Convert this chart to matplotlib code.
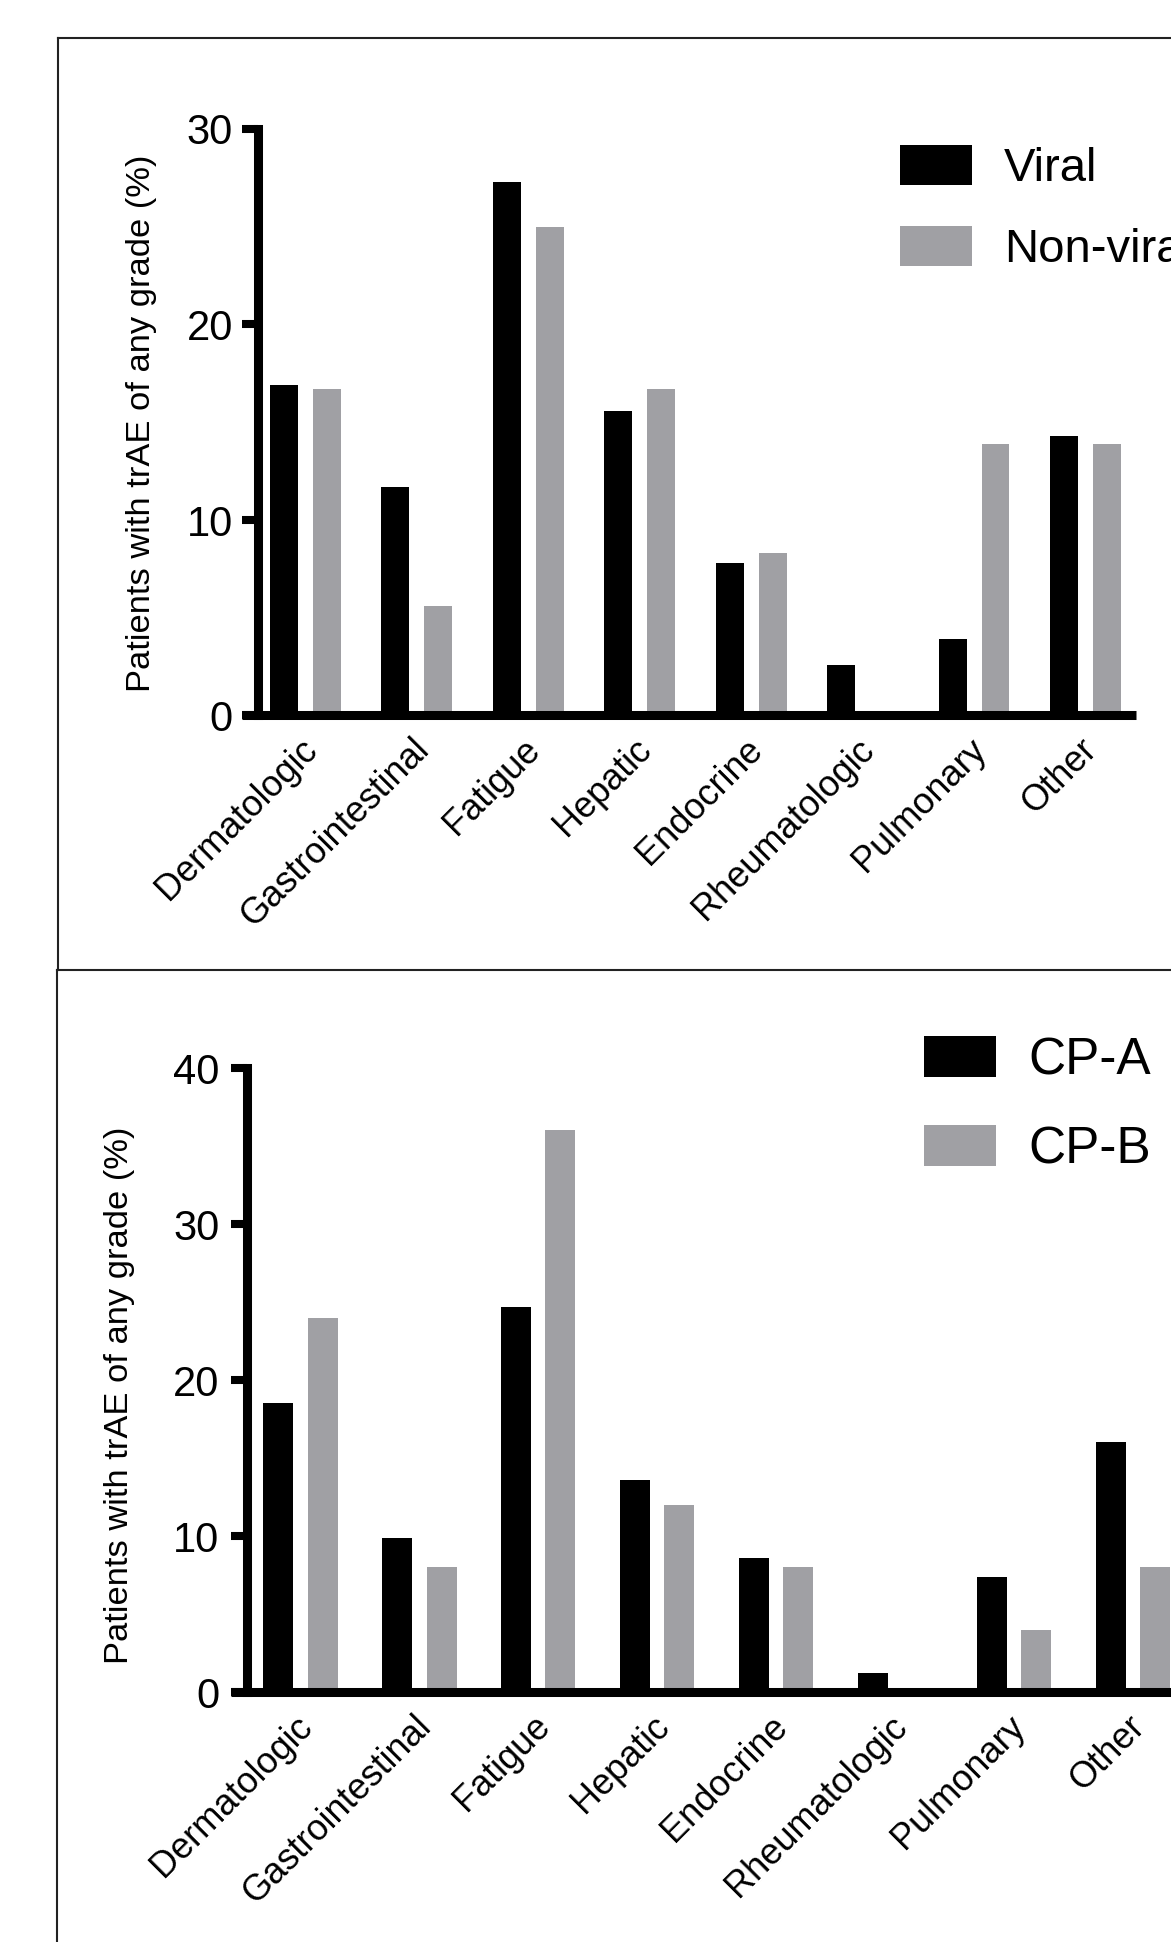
import matplotlib
matplotlib.use("Agg")
import matplotlib.pyplot as plt
from matplotlib.lines import Line2D
from matplotlib.transforms import ScaledTranslation
import numpy as np

plt.rcParams['font.family'] = ['Liberation Sans', 'DejaVu Sans']

categories = ["Dermatologic", "Gastrointestinal", "Fatigue", "Hepatic",
              "Endocrine", "Rheumatologic", "Pulmonary", "Other"]

# Panel 1: viral vs non-viral
viral = [16.9, 11.7, 27.3, 15.6, 7.8, 2.6, 3.9, 14.3]
non_viral = [16.7, 5.6, 25.0, 16.7, 8.3, 0.0, 13.9, 13.9]
# Panel 2: Child-Pugh A vs B
cp_a = [18.5, 9.9, 24.7, 13.6, 8.6, 1.2, 7.4, 16.0]
cp_b = [24.0, 8.0, 36.0, 12.0, 8.0, 0.0, 4.0, 8.0]

top_labels = ["Viral", "Non-viral"]
bottom_labels = ["CP-A", "CP-B"]
top_yticks = [0, 10, 20, 30]
bottom_yticks = [0, 10, 20, 30, 40]
ylabel = "Patients with trAE of any grade (%)"

BLACK = "#000000"
GREY = "#A0A0A4"

W, H = 1171, 1942
fig = plt.figure(figsize=(W / 100, H / 100), dpi=100)


def px_axes(left, right, top, bottom):
    return fig.add_axes([left / W, 1 - bottom / H, (right - left) / W, (bottom - top) / H])


def style_axis(ax, xlim, spine_x, ylim, yticks, ypad):
    ax.set_xlim(*xlim)
    ax.set_ylim(*ylim)
    for s in ("top", "right"):
        ax.spines[s].set_visible(False)
    ax.spines["left"].set_position(("data", spine_x))
    ax.spines["left"].set_linewidth(6.5)
    ax.spines["left"].set_capstyle("projecting")
    ax.spines["bottom"].set_linewidth(6.5)
    ax.spines["bottom"].set_capstyle("butt")
    ax.set_yticks(yticks)
    ax.set_yticklabels([str(t) for t in yticks])
    ax.tick_params(axis="y", length=11.5, width=5.8, pad=ypad, labelsize=30)
    ax.tick_params(axis="x", length=0, pad=12)
    ax.set_xticks(np.arange(len(categories)))
    ax.set_xticklabels(categories, rotation=45, ha="right", va="top",
                       rotation_mode="anchor", fontsize=26)
    shift = ScaledTranslation(-6 / 100, 0, fig.dpi_scale_trans)
    for lab in ax.get_xticklabels():
        lab.set_transform(lab.get_transform() + shift)
    ax.patch.set_visible(False)


def draw_panel(ax, a, b, off, width, labels, leg_anchor, legsize, lspace):
    x = np.arange(len(categories))
    b1 = ax.bar(x - off / 2, a, width=width, color=BLACK, label=labels[0], zorder=1)
    b2 = ax.bar(x + off / 2, b, width=width, color=GREY, label=labels[1], zorder=1)
    fs_px = legsize * 100 / 72
    ax.legend(handles=[b1, b2], labels=labels, loc="upper left",
              bbox_to_anchor=leg_anchor, frameon=False, fontsize=legsize,
              handlelength=72 / fs_px, handleheight=43 / fs_px,
              handletextpad=32 / fs_px, labelspacing=lspace,
              borderpad=0, borderaxespad=0)


# ---- top panel ----
ax1 = px_axes(241.7, 1136, 129, 715.5)
style_axis(ax1, (-0.571, 7.452), -0.425, (0, 30), top_yticks, 6.5)
lx = (900 - 241.7) / (1136 - 241.7)
ly = (715.5 - 145) / (715.5 - 129)
draw_panel(ax1, viral, non_viral, 0.383, 0.251, top_labels, (lx, ly), 34, 0.74)

# ---- bottom panel ----
ax2 = px_axes(230.7, 1180, 1068, 1692)
style_axis(ax2, (-0.587, (1180 - 300.5) / 118.9), -0.45, (0, 40), bottom_yticks, 8.5)
lx2 = (924 - 230.7) / (1180 - 230.7)
ly2 = (1692 - 1036) / (1692 - 1068)
draw_panel(ax2, cp_a, cp_b, 0.373, 0.252, bottom_labels, (lx2, ly2), 37, 0.78)

# y labels
fig.text(142 / W, 1 - 423 / H, ylabel, rotation=90, ha="center", va="center", fontsize=24.8)
fig.text(120 / W, 1 - 1395 / H, ylabel, rotation=90, ha="center", va="center", fontsize=24.8)

# panel frames
fc = "#222222"
lw = 1.5
def fline(xs, ys):
    fig.add_artist(Line2D([x / W for x in xs], [1 - y / H for y in ys], color=fc, lw=lw))

fline([58, 58], [37.7, 970])
fline([58, 1200], [37.7, 37.7])
fline([57, 1200], [970, 970])
fline([57, 57], [970, 1960])

fig.savefig("out.png", dpi=100)
